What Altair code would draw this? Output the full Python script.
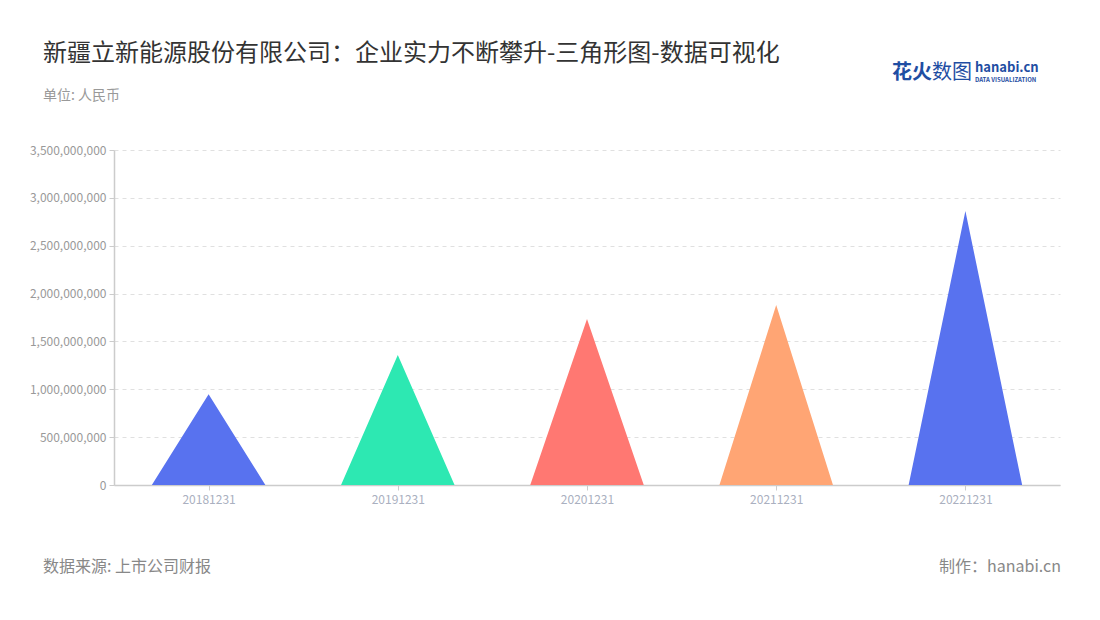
import altair as alt
import pandas as pd

# ---- data ----
dates = ["20181231", "20191231", "20201231", "20211231", "20221231"]
values = [947000000, 1358000000, 1734000000, 1881000000, 2863000000]
colors = ["#5872EF", "#2DE8B2", "#FF7872", "#FFA574", "#5872EF"]

title_text = "新疆立新能源股份有限公司：企业实力不断攀升-三角形图-数据可视化"
subtitle_text = "单位: 人民币"
source_text = "数据来源: 上市公司财报"
maker_text = "制作：hanabi.cn"

FONT = "Noto Sans CJK SC"
HALF = 0.3  # half width of triangle base in band units

rows = []
for i, (d, v) in enumerate(zip(dates, values)):
    rows.append({"date": d, "x": i - HALF, "y": 0})
    rows.append({"date": d, "x": i, "y": v})
    rows.append({"date": d, "x": i + HALF, "y": 0})
tri = pd.DataFrame(rows)

W, H = 946, 335
PAD = {"left": 106, "top": 142, "right": 24, "bottom": 120}

label_expr = "[" + ",".join(f"'{d}'" for d in dates) + "][datum.value]"

area = alt.Chart(tri).mark_area(opacity=1, interpolate="linear").encode(
    x=alt.X("x:Q",
            scale=alt.Scale(domain=[-0.5, len(dates) - 0.5], nice=False, zero=False),
            axis=alt.Axis(values=list(range(len(dates))), labelExpr=label_expr,
                          title=None, grid=False, tickSize=5, tickColor="#cccccc",
                          domainColor="#cccccc", domainWidth=1.5,
                          labelColor="#aab0c0", labelFontSize=12, labelFont=FONT,
                          labelPadding=4)),
    y=alt.Y("y:Q",
            scale=alt.Scale(domain=[0, 3500000000], nice=False),
            axis=alt.Axis(values=[i * 500000000 for i in range(8)], format=",d",
                          title=None, grid=True, gridDash=[4, 4], gridColor="#e0e0e0",
                          tickSize=5, tickColor="#cccccc", domainColor="#cccccc",
                          domainWidth=1.5, labelColor="#999999", labelFontSize=12,
                          labelFont=FONT, labelPadding=3)),
    color=alt.Color("date:N", scale=alt.Scale(domain=dates, range=colors), legend=None),
    detail="date:N",
)

def txt(text, x, y, size, color, align="left", weight="normal", font=FONT, baseline="middle"):
    return alt.Chart(pd.DataFrame({"t": [text]})).mark_text(
        align=align, baseline=baseline, fontSize=size, color=color,
        fontWeight=weight, font=font
    ).encode(x=alt.value(x), y=alt.value(y), text="t:N")

ox, oy = 114, 150  # plot origin on page

layers = [
    area,
    txt(title_text, 43 - ox, 54 - oy, 24, "#333333"),
    txt(subtitle_text, 43 - ox, 96 - oy, 14, "#999999"),
    txt(source_text, 43 - ox, 567 - oy, 16, "#888888"),
    txt(maker_text, 1061 - ox, 567 - oy, 16, "#888888", align="right"),
    txt("花火", 892 - ox, 73 - oy, 20, "#1f4ea3", weight="bold"),
    txt("数图", 932 - ox, 73 - oy, 20, "#1f4ea3"),
    txt("hanabi.cn", 975 - ox, 68 - oy, 13, "#1f4ea3", weight="bold"),
    txt("DATA VISUALIZATION", 975 - ox, 80 - oy, 6, "#1f4ea3", weight="bold"),
]

chart = alt.layer(*layers).properties(
    width=W, height=H,
    autosize=alt.AutoSizeParams(type="none"),
    padding=PAD,
    background="white",
).configure_view(stroke=None)

chart.save("out.html", embed_options={"renderer": "svg", "actions": False})
